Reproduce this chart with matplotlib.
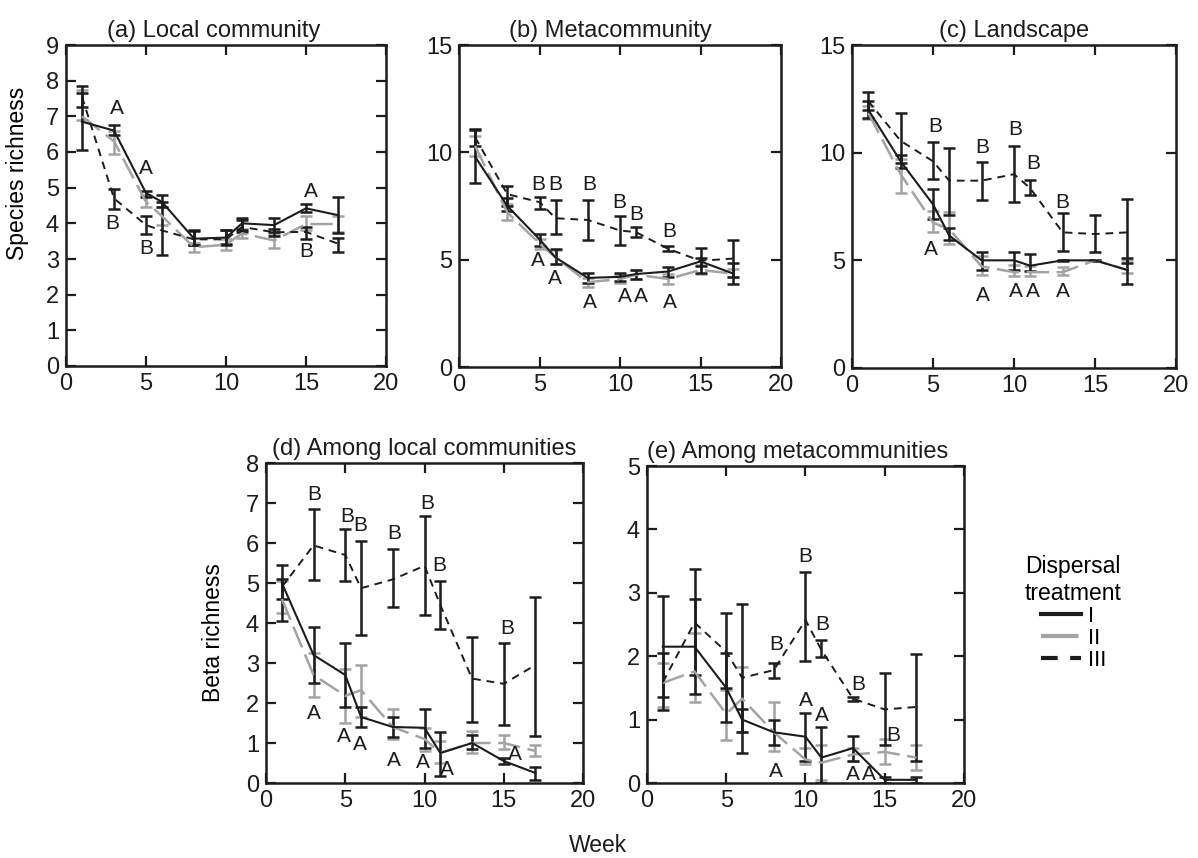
"""Richness over time by dispersal treatment: five panels with error bars."""

import matplotlib

matplotlib.use("Agg")
import matplotlib.pyplot as plt
from matplotlib.lines import Line2D

plt.rcParams["font.family"] = ["Liberation Sans", "DejaVu Sans"]

WEEKS = [1, 3, 5, 6, 8, 10, 11, 13, 15, 17]

# (a) local community
LOCAL_I = [6.85, 6.6, 4.85, 4.6, 3.57, 3.6, 4.0, 3.95, 4.42, 4.23]
LOCAL_I_LO = [6.05, 6.47, 4.75, 4.45, 3.4, 3.42, 3.82, 3.75, 4.33, 3.73]
LOCAL_I_HI = [7.65, 6.77, 4.92, 4.8, 3.78, 3.8, 4.15, 4.15, 4.55, 4.75]
LOCAL_II = [7.0, 6.3, 4.6, 4.2, 3.33, 3.4, 3.72, 3.52, 3.98, 3.98]
LOCAL_II_LO = [6.9, 5.95, 4.45, 3.95, 3.2, 3.25, 3.6, 3.3, 3.8, 3.75]
LOCAL_II_HI = [7.75, 6.6, 4.8, 4.45, 3.45, 3.55, 3.85, 3.7, 4.2, 4.2]
LOCAL_III = [7.55, 4.7, 3.95, 3.8, 3.55, 3.55, 3.9, 3.75, 3.76, 3.43]
LOCAL_III_LO = [7.25, 4.4, 3.7, 3.1, 3.4, 3.4, 3.75, 3.65, 3.55, 3.2]
LOCAL_III_HI = [7.85, 4.95, 4.2, 4.6, 3.8, 3.8, 4.1, 3.85, 3.9, 3.6]
LOCAL_LETTERS = [(3.2, 7.22, "A"), (5.0, 5.54, "A"), (2.9, 4.0, "B"),
                 (5.0, 3.29, "B"), (15.3, 4.88, "A"), (15.0, 3.2, "B")]

# (b) metacommunity
META_I = [9.8, 7.5, 5.95, 5.1, 4.15, 4.2, 4.33, 4.45, 4.92, 4.36]
META_I_LO = [8.55, 7.25, 5.65, 4.8, 3.9, 4.0, 4.1, 4.2, 4.7, 3.86]
META_I_HI = [11.05, 7.85, 6.2, 5.5, 4.4, 4.4, 4.5, 4.65, 5.1, 4.85]
META_II = [10.3, 7.2, 5.75, 5.1, 3.95, 4.1, 4.3, 4.1, 4.52, 4.35]
META_II_LO = [9.85, 6.85, 5.5, 4.8, 3.75, 3.9, 4.1, 3.85, 4.35, 4.2]
META_II_HI = [10.75, 7.6, 5.95, 5.45, 4.15, 4.3, 4.5, 4.35, 4.75, 4.55]
META_III = [10.7, 8.05, 7.68, 6.93, 6.85, 6.36, 6.28, 5.5, 4.95, 5.05]
META_III_LO = [10.3, 7.5, 7.35, 6.2, 5.9, 5.7, 6.05, 5.4, 4.4, 4.2]
META_III_HI = [11.1, 8.45, 7.9, 7.8, 7.8, 7.05, 6.5, 5.65, 5.55, 5.9]
META_LETTERS = [(4.92, 8.5, "B"), (6.0, 8.5, "B"), (8.1, 8.5, "B"),
                (9.96, 7.68, "B"), (11.0, 7.09, "B"), (13.07, 6.3, "B"),
                (4.9, 4.95, "A"), (5.98, 4.1, "A"), (8.1, 3.0, "A"),
                (10.3, 3.3, "A"), (11.3, 3.3, "A"), (13.07, 3.0, "A")]

# (c) landscape
LAND_I = [12.0, 9.6, 7.6, 6.15, 5.0, 5.0, 4.75, 5.0, 5.0, 4.55]
LAND_I_LO = [11.6, 9.3, 6.9, 5.95, 4.55, 4.55, 4.5, 4.97, 4.97, 3.9]
LAND_I_HI = [12.4, 9.9, 8.3, 6.5, 5.4, 5.4, 5.3, 5.03, 5.03, 5.1]
LAND_II = [11.85, 9.0, 6.75, 6.45, 4.72, 4.45, 4.45, 4.45, 5.0, 4.55]
LAND_II_LO = [11.55, 8.15, 6.3, 5.75, 4.3, 4.25, 4.25, 4.3, 4.97, 4.4]
LAND_II_HI = [12.15, 9.7, 7.3, 7.25, 5.2, 4.8, 4.75, 4.7, 5.03, 5.0]
LAND_III = [12.4, 10.55, 9.6, 8.7, 8.7, 9.0, 8.35, 6.3, 6.22, 6.3]
LAND_III_LO = [12.0, 9.5, 8.8, 7.1, 7.8, 7.7, 8.05, 5.42, 5.37, 4.88]
LAND_III_HI = [12.8, 11.85, 10.5, 10.2, 9.55, 10.3, 8.75, 7.22, 7.12, 7.85]
LAND_LETTERS = [(5.15, 11.2, "B"), (4.9, 5.5, "A"), (8.06, 10.25, "B"),
                (8.06, 3.38, "A"), (10.1, 11.06, "B"), (11.2, 9.48, "B"),
                (13.0, 7.69, "B"), (10.1, 3.53, "A"), (11.15, 3.53, "A"),
                (13.0, 3.53, "A")]

# (d) among local communities
BLOCAL_I = [5.0, 3.2, 2.7, 1.65, 1.4, 1.38, 0.75, 1.0, 0.55, 0.25]
BLOCAL_I_LO = [4.6, 2.5, 1.9, 1.4, 1.15, 0.88, 0.18, 0.85, 0.47, 0.08]
BLOCAL_I_HI = [5.45, 3.9, 3.5, 1.9, 1.65, 1.85, 1.27, 1.2, 0.63, 0.4]
BLOCAL_II = [4.6, 2.7, 2.18, 2.32, 1.4, 1.1, 0.75, 1.0, 1.0, 0.8]
BLOCAL_II_LO = [4.25, 2.15, 1.5, 1.65, 1.1, 0.8, 0.5, 0.75, 0.85, 0.68]
BLOCAL_II_HI = [5.05, 3.25, 2.85, 2.95, 1.85, 1.38, 1.05, 1.3, 1.2, 0.95]
BLOCAL_III = [4.9, 5.94, 5.7, 4.87, 5.09, 5.43, 4.45, 2.61, 2.48, 2.95]
BLOCAL_III_LO = [4.05, 5.07, 5.05, 3.7, 4.4, 4.2, 3.85, 1.52, 1.45, 1.18]
BLOCAL_III_HI = [5.1, 6.84, 6.35, 6.06, 5.85, 6.68, 5.05, 3.65, 3.5, 4.65]
BLOCAL_LETTERS = [(3.05, 7.22, "B"), (5.1, 6.65, "B"), (5.97, 6.44, "B"),
                  (8.06, 6.23, "B"), (10.15, 6.99, "B"), (10.9, 5.43, "B"),
                  (15.2, 3.87, "B"), (3.05, 1.73, "A"), (4.93, 1.15, "A"),
                  (5.95, 0.97, "A"), (8.06, 0.55, "A"), (9.87, 0.5, "A"),
                  (11.44, 0.33, "A"), (15.7, 0.72, "A")]

# (e) among metacommunities
BMETA_I = [2.15, 2.15, 1.5, 1.0, 0.8, 0.73, 0.4, 0.55, 0.05, 0.05]
BMETA_I_LO = [1.35, 1.4, 0.96, 0.81, 0.6, 0.35, 0.0, 0.35, 0.0, 0.0]
BMETA_I_HI = [2.95, 2.9, 2.05, 1.16, 1.0, 1.1, 0.88, 0.74, 0.1, 0.1]
BMETA_II = [1.58, 1.76, 1.09, 1.33, 0.8, 0.37, 0.32, 0.45, 0.49, 0.4]
BMETA_II_LO = [1.2, 1.28, 0.68, 0.8, 0.5, 0.3, 0.05, 0.35, 0.3, 0.2]
BMETA_II_HI = [1.9, 2.36, 1.46, 1.83, 1.28, 0.55, 0.6, 0.55, 0.7, 0.6]
BMETA_III = [1.59, 2.53, 2.07, 1.66, 1.78, 2.57, 2.1, 1.33, 1.16, 1.2]
BMETA_III_LO = [1.15, 1.7, 1.5, 0.48, 1.65, 1.92, 1.98, 1.3, 0.6, 0.35]
BMETA_III_HI = [2.05, 3.38, 2.68, 2.83, 1.9, 3.33, 2.25, 1.36, 1.74, 2.04]
BMETA_LETTERS = [(10.0, 3.57, "B"), (11.05, 2.5, "B"), (8.15, 2.18, "B"),
                 (13.3, 1.55, "B"), (15.55, 0.75, "B"), (10.0, 1.3, "A"),
                 (11.05, 1.07, "A"), (8.15, 0.18, "A"), (13.0, 0.13, "A"),
                 (14.0, 0.13, "A")]

BLACK = "#1c1c1c"
GREY = "#a3a3a3"
STYLES = {
    "I": dict(color=BLACK, ls="-", lw=1.5),
    "II": dict(color=GREY, ls=(0, (9, 3)), lw=1.8),
    "III": dict(color=BLACK, ls=(0, (4, 3)), lw=1.4),
}
TICK_FS = 17
TITLE_FS = 17
LABEL_FS = 16.5
LETTER_FS = 15

W, H = 1198, 858
fig = plt.figure(figsize=(W / 100, H / 100), dpi=100)


def add_ax(left, top, right, bottom):
    return fig.add_axes([left / W, 1 - bottom / H, (right - left) / W, (bottom - top) / H])


def draw_panel(ax, series, letters, title, ylim, yticks, title_x=0.5):
    # series: {treatment: (mean, lo, hi)}; grey underneath the black ones
    for name in ["II", "I", "III"]:
        mean, lo, hi = series[name]
        st = STYLES[name]
        yerr = [[m - l for m, l in zip(mean, lo)], [h - m for m, h in zip(mean, hi)]]
        ax.errorbar(WEEKS, mean, yerr=yerr, fmt="none", ecolor=st["color"],
                    elinewidth=1.8, capsize=4.5, capthick=1.8, zorder=2)
        ax.plot(WEEKS, mean, **st, zorder=3)
    for x, y, s in letters:
        ax.text(x, y, s, ha="center", va="center", fontsize=LETTER_FS, color=BLACK)
    ax.set_xlim(0, 20)
    ax.set_ylim(*ylim)
    ax.set_xticks([0, 5, 10, 15, 20])
    ax.set_yticks(yticks)
    ax.tick_params(direction="in", top=True, right=True, length=7, width=1.6,
                   labelsize=TICK_FS, pad=5, colors=BLACK)
    for sp in ax.spines.values():
        sp.set_linewidth(1.8)
        sp.set_color(BLACK)
    ax.set_title(title, fontsize=TITLE_FS, pad=6, color=BLACK, x=title_x)


ax_a = add_ax(66, 45, 386, 366)
draw_panel(ax_a, {"I": (LOCAL_I, LOCAL_I_LO, LOCAL_I_HI),
                  "II": (LOCAL_II, LOCAL_II_LO, LOCAL_II_HI),
                  "III": (LOCAL_III, LOCAL_III_LO, LOCAL_III_HI)},
           LOCAL_LETTERS, "(a) Local community", (0, 9), range(0, 10), title_x=0.46)
ax_a.set_ylabel("Species richness", fontsize=LABEL_FS)
ax_a.yaxis.set_label_coords(-0.115, 0.6)

ax_b = add_ax(459, 45, 781, 367)
draw_panel(ax_b, {"I": (META_I, META_I_LO, META_I_HI),
                  "II": (META_II, META_II_LO, META_II_HI),
                  "III": (META_III, META_III_LO, META_III_HI)},
           META_LETTERS, "(b) Metacommunity", (0, 15), [0, 5, 10, 15], title_x=0.47)

ax_c = add_ax(852, 45, 1176, 368)
draw_panel(ax_c, {"I": (LAND_I, LAND_I_LO, LAND_I_HI),
                  "II": (LAND_II, LAND_II_LO, LAND_II_HI),
                  "III": (LAND_III, LAND_III_LO, LAND_III_HI)},
           LAND_LETTERS, "(c) Landscape", (0, 15), [0, 5, 10, 15])

ax_d = add_ax(266, 463, 583, 783)
draw_panel(ax_d, {"I": (BLOCAL_I, BLOCAL_I_LO, BLOCAL_I_HI),
                  "II": (BLOCAL_II, BLOCAL_II_LO, BLOCAL_II_HI),
                  "III": (BLOCAL_III, BLOCAL_III_LO, BLOCAL_III_HI)},
           BLOCAL_LETTERS, "(d) Among local communities", (0, 8), range(0, 9))
ax_d.set_ylabel("Beta richness", fontsize=LABEL_FS)
ax_d.yaxis.set_label_coords(-0.13, 0.47)

ax_e = add_ax(647, 466, 964, 783)
draw_panel(ax_e, {"I": (BMETA_I, BMETA_I_LO, BMETA_I_HI),
                  "II": (BMETA_II, BMETA_II_LO, BMETA_II_HI),
                  "III": (BMETA_III, BMETA_III_LO, BMETA_III_HI)},
           BMETA_LETTERS, "(e) Among metacommunities", (0, 5), range(0, 6), title_x=0.475)

fig.text(598 / W, 1 - 846 / H, "Week", ha="center", va="center", fontsize=LABEL_FS, color=BLACK)

handles = [Line2D([], [], color=STYLES[k]["color"], ls=STYLES[k]["ls"], lw=3) for k in ["I", "II", "III"]]
leg = fig.legend(handles, ["I", "II", "III"], title="Dispersal\ntreatment",
                 loc="upper left", bbox_to_anchor=(1005 / W, 1 - 535 / H),
                 frameon=False, fontsize=16, title_fontsize=LABEL_FS,
                 handlelength=1.8, handletextpad=0.3, labelspacing=0.05)
leg._legend_box.align = "center"

fig.savefig("out.png", dpi=100)
